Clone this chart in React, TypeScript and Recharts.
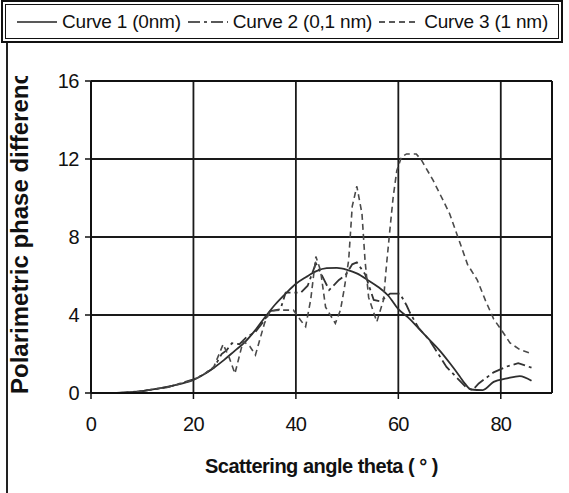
import React from 'react';
import { LineChart, Line, XAxis, YAxis, CartesianGrid, ReferenceLine, Legend } from 'recharts';

const xTicks = [0, 20, 40, 60, 80];
const yTicks = [0, 4, 8, 12, 16];

const curve1Theta = [5, 8, 10, 13, 16, 20, 22, 24, 26, 28, 30, 32, 34, 36, 38, 40, 42, 44, 46, 48, 50, 52, 54, 56, 58, 60, 62, 64, 66, 68, 70, 72, 73, 74.2, 76.5, 78.6, 81.2, 83.7, 86];
const curve1Phase = [0, 0.05, 0.1, 0.22, 0.38, 0.67, 0.95, 1.3, 1.7, 2.15, 2.6, 3.2, 3.9, 4.55, 5.1, 5.6, 5.95, 6.25, 6.4, 6.42, 6.32, 6.12, 5.8, 5.45, 5.0, 4.3, 3.85, 3.3, 2.75, 2.2, 1.55, 0.85, 0.48, 0.18, 0.15, 0.57, 0.75, 0.87, 0.63];

const curve2Theta = [5, 10, 15, 20, 22, 24, 25.5, 26.5, 27.5, 29, 30.5, 32, 33.5, 35, 37, 38, 41, 42.3, 43.9, 45.2, 46.5, 48.4, 49.7, 51, 51.9, 53.5, 55.2, 56.5, 58.4, 60.3, 61.6, 62.3, 63.9, 66.1, 69.4, 71.3, 73.2, 74.5, 75.7, 78.6, 81.2, 83.4, 86];
const curve2Phase = [0, 0.1, 0.3, 0.7, 0.95, 1.3, 2.0, 2.2, 2.55, 2.5, 2.9, 3.1, 3.6, 4.2, 4.3, 5.15, 5.15, 5.5, 6.65, 5.97, 5.28, 5.8, 6.05, 6.6, 6.7, 6.1, 4.77, 4.7, 5.1, 5.1, 4.5, 4.1, 3.36, 2.7, 1.34, 0.82, 0.3, 0.15, 0.49, 1.06, 1.36, 1.53, 1.3];

const curve3Theta = [5, 10, 15, 20, 22, 24, 25.8, 27, 28.1, 29.7, 31, 32.1, 33.9, 35, 37, 39.5, 41, 41.9, 42.9, 43.9, 44.8, 45.8, 47.7, 48.7, 49.4, 50.3, 51, 51.9, 52.9, 53.5, 54.2, 55.8, 57.1, 57.7, 58.4, 59, 59.7, 60.6, 61.6, 63.5, 64.5, 66.8, 68.7, 70, 71.9, 73.5, 75.4, 77, 78.6, 80.2, 81.8, 83.7, 85.7];
const curve3Phase = [0, 0.1, 0.3, 0.67, 0.95, 1.35, 2.5, 1.8, 1.0, 2.66, 2.4, 1.95, 3.6, 4.2, 4.25, 4.25, 3.7, 3.4, 4.8, 7.0, 6.3, 4.4, 3.57, 4.25, 5.28, 6.8, 9.57, 10.6, 9.2, 6.8, 4.9, 3.65, 4.77, 6.6, 8.5, 10.06, 11.4, 12.1, 12.26, 12.26, 11.95, 10.9, 9.9, 9.2, 7.8, 6.6, 5.8, 4.75, 3.8, 3.2, 2.57, 2.23, 2.05];

const seriesNames = ['Curve 1 (0nm)', 'Curve 2 (0,1 nm)', 'Curve 3 (1 nm)'];

const zip = (xs: number[], ys: number[]) => xs.map((x, i) => ({ x, y: ys[i] }));

const series = [
  { name: seriesNames[0], data: zip(curve1Theta, curve1Phase), dash: undefined as string | undefined, type: 'monotone', color: '#2e2e2e', width: 1.8 },
  { name: seriesNames[1], data: zip(curve2Theta, curve2Phase), dash: '12 4 3 4', type: 'linear', color: '#333333', width: 1.8 },
  { name: seriesNames[2], data: zip(curve3Theta, curve3Phase), dash: '6 4', type: 'linear', color: '#4a4a4a', width: 1.6 },
];

const FONT = '"Liberation Sans", Arial, sans-serif';

const LegendBox = () => (
  <div style={{ width: 562, height: 43, boxSizing: 'border-box', border: '2px solid #111', padding: 2, background: '#fff' }}>
    <div style={{ height: '100%', boxSizing: 'border-box', border: '1px solid #111', display: 'flex', alignItems: 'center', paddingLeft: 11, fontFamily: FONT, fontSize: 19, color: '#111', letterSpacing: -0.2 }}>
      {series.map((s) => (
        <div key={s.name} style={{ display: 'flex', alignItems: 'center', marginRight: 7 }}>
          <svg width={40} height={10} style={{ marginRight: 5, flexShrink: 0 }}>
            <line x1={0} x2={40} y1={5} y2={5} stroke="#222" strokeWidth={1.4} strokeDasharray={s.dash} />
          </svg>
          <span style={{ whiteSpace: 'nowrap' }}>{s.name}</span>
        </div>
      ))}
    </div>
  </div>
);

const XTitle = (props: any) => {
  const vb = props.viewBox;
  return (
    <text x={vb.x + vb.width / 2} y={vb.y + 80} textAnchor="middle" fontFamily={FONT} fontWeight="bold" fontSize={20} letterSpacing={-0.5} fill="#111">
      Scattering angle theta ( ° )
    </text>
  );
};

const YTitle = (props: any) => {
  const vb = props.viewBox;
  const bottom = vb.y + vb.height;
  return (
    <g>
      <defs>
        <clipPath id="ytitle-clip">
          <rect x={0} y={vb.y - 5} width={60} height={vb.height + 40} />
        </clipPath>
      </defs>
      <g clipPath="url(#ytitle-clip)">
        <text transform={`translate(28, ${bottom + 1}) rotate(-90)`} x={0} y={0} textAnchor="start" fontFamily={FONT} fontWeight="bold" fontSize={24} fill="#111">
          Polarimetric phase difference
        </text>
      </g>
    </g>
  );
};

export default function App() {
  return (
    <div style={{ position: 'absolute', left: 0, top: 0, width: 569, height: 493, background: '#fff', fontFamily: FONT }}>
      <div style={{ position: 'absolute', left: 6, top: 42, width: 2, height: 451, background: '#222' }} />
      <LineChart width={569} height={493} margin={{ top: 81, right: 17, bottom: 68, left: 0 }} style={{ position: 'absolute', left: 0, top: 0 }}>
        <CartesianGrid stroke="#1a1a1a" strokeWidth={1.8} />
        <XAxis
          type="number"
          dataKey="x"
          domain={[0, 90]}
          ticks={xTicks}
          height={32}
          tickSize={6}
          tickMargin={18}
          axisLine={{ stroke: '#111', strokeWidth: 2 }}
          tickLine={{ stroke: '#111', strokeWidth: 1.5 }}
          tick={{ fontSize: 20, fill: '#111', fontFamily: FONT, letterSpacing: -0.8 }}
          label={<XTitle />}
          allowDuplicatedCategory={false}
        />
        <YAxis
          type="number"
          domain={[0, 16]}
          ticks={yTicks}
          width={91}
          tickSize={6}
          tickMargin={6}
          axisLine={{ stroke: '#111', strokeWidth: 2 }}
          tickLine={{ stroke: '#111', strokeWidth: 1.5 }}
          tick={{ fontSize: 20, fill: '#111', fontFamily: FONT, letterSpacing: -0.5 }}
          label={<YTitle />}
        />
        <ReferenceLine x={90} stroke="#111" strokeWidth={2} />
        <ReferenceLine y={16} stroke="#111" strokeWidth={2} />
        <Legend
          layout="horizontal"
          verticalAlign="middle"
          align="center"
          content={<LegendBox />}
          wrapperStyle={{ top: 0, left: 1, width: 562, height: 43 }}
        />
        {series.map((s) => (
          <Line
            key={s.name}
            name={s.name}
            data={s.data}
            dataKey="y"
            type={s.type as any}
            stroke={s.color}
            strokeWidth={s.width}
            strokeDasharray={s.dash}
            dot={false}
            activeDot={false}
            isAnimationActive={false}
          />
        ))}
      </LineChart>
    </div>
  );
}
